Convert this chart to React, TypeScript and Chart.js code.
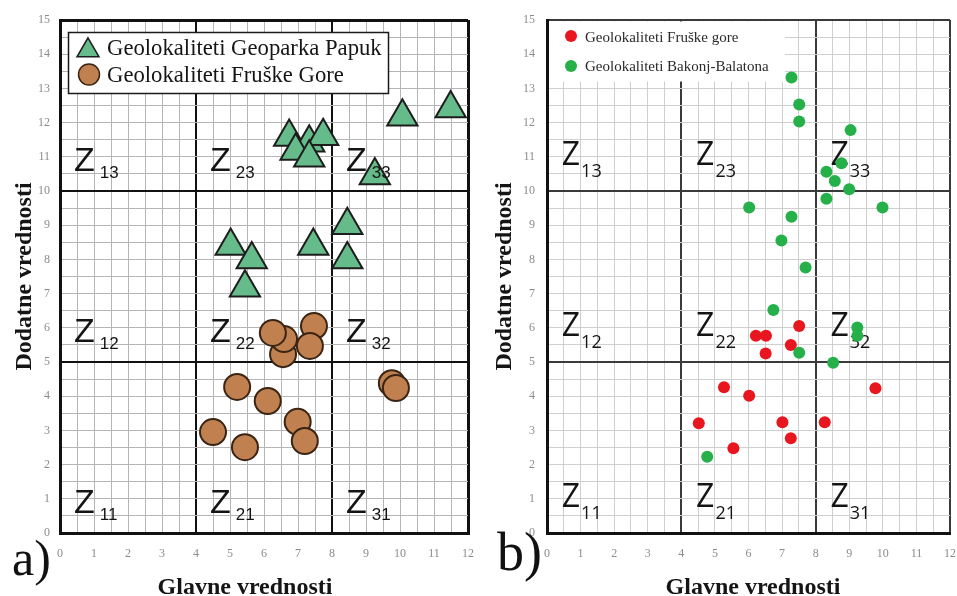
import React, { useEffect, useRef } from 'react';
import { Chart, registerables } from 'chart.js';

Chart.register(...registerables);

// ---------- data ----------
const X_MIN = 0;
const X_MAX = 12;
const Y_MIN = 0;
const Y_MAX = 15;
const xZoneBounds = [0, 4, 8];
const yZoneBounds = [0, 5, 10];
const xMajorStep = 4;
const yMajorStep = 5;

// a) Geolokaliteti Geoparka Papuk (triangles)
const papukX = [6.74, 7.33, 7.74, 6.93, 7.33, 9.26, 10.07, 11.49, 5.02, 5.64, 5.44, 7.45, 8.45, 8.45];
const papukY = [11.58, 11.41, 11.6, 11.17, 10.97, 10.45, 12.17, 12.41, 8.39, 8.0, 7.17, 8.39, 9.0, 8.0];

// a) Geolokaliteti Fruške Gore (circles)
const fruskaAX = [6.56, 6.59, 6.26, 7.47, 7.35, 5.21, 6.11, 4.5, 5.44, 6.99, 7.2, 9.76, 9.88];
const fruskaAY = [5.23, 5.67, 5.85, 6.05, 5.47, 4.27, 3.86, 2.95, 2.51, 3.25, 2.69, 4.38, 4.24];

// b) Geolokaliteti Fruške gore (red)
const fruskaBX = [7.51, 6.22, 6.52, 7.26, 6.51, 5.27, 6.02, 4.52, 7.01, 8.27, 7.26, 5.55, 9.78];
const fruskaBY = [6.05, 5.77, 5.77, 5.5, 5.25, 4.26, 4.01, 3.21, 3.24, 3.24, 2.77, 2.48, 4.23];

// b) Geolokaliteti Bakonj-Balatona (green)
const bakonyX = [7.28, 7.51, 7.51, 9.04, 8.77, 8.32, 8.57, 9.0, 8.32, 9.99, 6.02, 7.28, 6.98, 7.7, 6.74, 9.24, 9.24, 7.51, 8.52, 4.77];
const bakonyY = [13.32, 12.53, 12.03, 11.78, 10.81, 10.56, 10.29, 10.05, 9.77, 9.52, 9.52, 9.25, 8.55, 7.76, 6.52, 6.01, 5.77, 5.27, 4.98, 2.23];

const legendA = ['Geolokaliteti Geoparka Papuk', 'Geolokaliteti Fruške Gore'];
const legendB = ['Geolokaliteti Fruške gore', 'Geolokaliteti Bakonj-Balatona'];
const xTitle = 'Glavne vrednosti';
const yTitle = 'Dodatne vrednosti';
const panelLabels = ['a)', 'b)'];

// ---------- helpers ----------
const toPts = (xs: number[], ys: number[]) => xs.map((x, i) => ({ x, y: ys[i] }));
const tickLabel = (v: any) => (Number.isInteger(Number(v)) ? String(v) : '');
const TITLE_FONT = 'bold 24px "Liberation Serif"';

type Style = {
  width: number;
  yAxisWidth: number;
  padRight: number;
  minor: string;
  major: string;
  majorW: number;
  edgeW: number;
  borderW: number;
  yTickPad: number;
  yTitlePad: number;
  xTitleX: number;
  xTitleY: number;
  zFont: string;
  subFont: string;
  zDx: number;
  zDy: number;
  subGap: number;
  subDy: number;
  zonesOnTop: boolean;
  label: string;
  labelX: number;
  labelY: number;
  labelFont: string;
};

function isMajor(v: number, major: number) {
  return Math.abs(v / major - Math.round(v / major)) < 1e-9;
}

function gridScale(min: number, max: number, major: number, st: Style) {
  return {
    color: (c: any) => {
      const v = c.tick ? c.tick.value : 0;
      return isMajor(v, major) ? st.major : st.minor;
    },
    lineWidth: (c: any) => {
      const v = c.tick ? c.tick.value : 0;
      if (v === min || v === max) return st.edgeW;
      return isMajor(v, major) ? st.majorW : 1;
    },
    drawTicks: false,
  };
}

function zonesPlugin(st: Style) {
  const draw = (chart: any) => {
    const { ctx, scales } = chart;
    const xs = scales.x;
    const ys = scales.y;
    ctx.save();
    ctx.fillStyle = '#141414';
    ctx.textAlign = 'left';
    ctx.textBaseline = 'alphabetic';
    xZoneBounds.forEach((xb, i) => {
      yZoneBounds.forEach((yb, j) => {
        const px = xs.getPixelForValue(xb + st.zDx);
        const py = ys.getPixelForValue(yb) - st.zDy;
        ctx.font = st.zFont;
        ctx.fillText('Z', px, py);
        const w = ctx.measureText('Z').width;
        ctx.font = st.subFont;
        ctx.fillText(`${i + 1}${j + 1}`, px + w + st.subGap, py + st.subDy);
      });
    });
    ctx.restore();
  };
  return st.zonesOnTop
    ? { id: 'zones', afterDatasetsDraw: draw }
    : { id: 'zones', beforeDatasetsDraw: draw };
}

function labelsPlugin(st: Style) {
  return {
    id: 'panelLabels',
    afterDraw(chart: any) {
      const { ctx } = chart;
      ctx.save();
      ctx.fillStyle = '#111';
      ctx.textBaseline = 'alphabetic';
      ctx.font = st.labelFont;
      ctx.textAlign = 'left';
      ctx.fillText(st.label, st.labelX, st.labelY);
      // x axis title
      ctx.fillStyle = '#151515';
      ctx.font = TITLE_FONT;
      ctx.textAlign = 'center';
      ctx.fillText(xTitle, st.xTitleX, st.xTitleY);
      ctx.restore();
    },
  };
}

const legendAPlugin = {
  id: 'legendA',
  beforeDatasetsDraw(chart: any) {
    const { ctx } = chart;
    ctx.save();
    ctx.fillStyle = '#ffffff';
    ctx.fillRect(68, 32, 320, 61);
    ctx.strokeStyle = '#1a1a1a';
    ctx.lineWidth = 1.5;
    ctx.strokeRect(68.5, 32.5, 320, 61);
    // triangle marker
    const r = 12.7;
    const cx = 88;
    const cy = 50.5;
    ctx.beginPath();
    ctx.moveTo(cx, cy - r);
    ctx.lineTo(cx + Math.sin((2 * Math.PI) / 3) * r, cy - Math.cos((2 * Math.PI) / 3) * r);
    ctx.lineTo(cx + Math.sin((4 * Math.PI) / 3) * r, cy - Math.cos((4 * Math.PI) / 3) * r);
    ctx.closePath();
    ctx.fillStyle = '#66bb8a';
    ctx.fill();
    ctx.strokeStyle = '#1d1d1d';
    ctx.lineWidth = 1.5;
    ctx.stroke();
    // circle marker
    ctx.beginPath();
    ctx.arc(89, 74.5, 10.5, 0, Math.PI * 2);
    ctx.fillStyle = '#c0804f';
    ctx.fill();
    ctx.strokeStyle = '#3a2414';
    ctx.stroke();
    ctx.fillStyle = '#151515';
    ctx.font = '22.7px "Liberation Serif"';
    ctx.textAlign = 'left';
    ctx.textBaseline = 'alphabetic';
    ctx.fillText(legendA[0], 107, 55);
    ctx.fillText(legendA[1], 107, 82);
    ctx.restore();
  },
};

const legendBPlugin = {
  id: 'legendB',
  beforeDatasetsDraw(chart: any) {
    const { ctx } = chart;
    ctx.save();
    ctx.fillStyle = '#ffffff';
    ctx.fillRect(69, 21.5, 236, 60);
    ctx.beginPath();
    ctx.arc(91, 36, 6, 0, Math.PI * 2);
    ctx.fillStyle = '#e8161e';
    ctx.fill();
    ctx.beginPath();
    ctx.arc(91, 66, 6, 0, Math.PI * 2);
    ctx.fillStyle = '#25b04a';
    ctx.fill();
    ctx.fillStyle = '#2a2a2a';
    ctx.font = '15px "Liberation Serif"';
    ctx.textAlign = 'left';
    ctx.textBaseline = 'alphabetic';
    ctx.fillText(legendB[0], 105, 42);
    ctx.fillText(legendB[1], 105, 71);
    ctx.restore();
  },
};

function makeConfig(st: Style, datasets: any[], legendPlugin: any): any {
  return {
    type: 'scatter',
    data: { datasets },
    options: {
      animation: false,
      responsive: false,
      devicePixelRatio: 1,
      events: [],
      layout: { autoPadding: false, padding: { left: 0, right: st.padRight, top: 20, bottom: 0 } },
      plugins: { legend: { display: false }, tooltip: { enabled: false } },
      scales: {
        x: {
          type: 'linear',
          min: X_MIN,
          max: X_MAX,
          afterFit: (s: any) => {
            s.height = 63;
            s.paddingLeft = 0;
            s.paddingRight = 0;
          },
          ticks: {
            stepSize: 0.5,
            autoSkip: false,
            maxRotation: 0,
            padding: 14,
            color: '#8c8c8c',
            font: { family: '"Liberation Serif"', size: 12 },
            callback: tickLabel,
          },
          grid: gridScale(X_MIN, X_MAX, xMajorStep, st),
          border: { display: true, color: '#111', width: st.borderW },
          title: { display: false, text: xTitle },
        },
        y: {
          type: 'linear',
          min: Y_MIN,
          max: Y_MAX,
          afterFit: (s: any) => {
            s.width = st.yAxisWidth;
            s.paddingTop = 0;
            s.paddingBottom = 0;
          },
          ticks: {
            stepSize: 0.5,
            autoSkip: false,
            padding: st.yTickPad,
            color: '#8c8c8c',
            font: { family: '"Liberation Serif"', size: 12 },
            callback: tickLabel,
          },
          grid: gridScale(Y_MIN, Y_MAX, yMajorStep, st),
          border: { display: true, color: '#111', width: st.borderW },
          title: {
            display: true,
            text: yTitle,
            color: '#151515',
            font: { family: '"Liberation Serif"', size: 24, weight: 'bold' },
            padding: { top: st.yTitlePad, bottom: 0 },
          },
        },
      },
    },
    plugins: [legendPlugin, zonesPlugin(st), labelsPlugin(st)],
  };
}

const styleA: Style = {
  width: 480,
  yAxisWidth: 60,
  padRight: 12,
  minor: '#b5b5b5',
  major: '#111111',
  majorW: 2,
  edgeW: 3,
  borderW: 3,
  yTickPad: 10,
  yTitlePad: 10,
  xTitleX: 245,
  xTitleY: 594,
  zFont: '34px "Liberation Sans"',
  subFont: '17px "Liberation Sans"',
  zDx: 0.41,
  zDy: 20,
  subGap: 5,
  subDy: 7,
  zonesOnTop: true,
  label: panelLabels[0],
  labelX: 12,
  labelY: 575,
  labelFont: '50px "Liberation Serif"',
};

const styleB: Style = {
  width: 477,
  yAxisWidth: 67,
  padRight: 7,
  minor: '#cfcfcf',
  major: '#3a3a3a',
  majorW: 2,
  edgeW: 2,
  borderW: 3,
  yTickPad: 12,
  yTitlePad: 10,
  xTitleX: 273,
  xTitleY: 594,
  zFont: '32px "Open Sans"',
  subFont: '18px "Open Sans"',
  zDx: 0.44,
  zDy: 26,
  subGap: 1,
  subDy: 12,
  zonesOnTop: false,
  label: panelLabels[1],
  labelX: 17,
  labelY: 570,
  labelFont: '54px "Liberation Serif"',
};

const datasetsA = [
  {
    label: legendA[0],
    data: toPts(papukX, papukY),
    pointStyle: 'triangle',
    pointRadius: 17.5,
    backgroundColor: '#66bb8a',
    borderColor: '#1d1d1d',
    borderWidth: 2,
    showLine: false,
  },
  {
    label: legendA[1],
    data: toPts(fruskaAX, fruskaAY),
    pointStyle: 'circle',
    pointRadius: 13,
    backgroundColor: '#c0804f',
    borderColor: '#3a2414',
    borderWidth: 2,
    showLine: false,
  },
];

const datasetsB = [
  {
    label: legendB[0],
    data: toPts(fruskaBX, fruskaBY),
    pointStyle: 'circle',
    pointRadius: 6,
    backgroundColor: '#e8161e',
    borderWidth: 0,
    order: 1,
    showLine: false,
  },
  {
    label: legendB[1],
    data: toPts(bakonyX, bakonyY),
    pointStyle: 'circle',
    pointRadius: 6,
    backgroundColor: '#25b04a',
    borderWidth: 0,
    order: 0,
    showLine: false,
  },
];

function Panel({ left, st, datasets, legendPlugin }: any) {
  const ref = useRef<HTMLCanvasElement>(null);
  useEffect(() => {
    const chart = new Chart(ref.current as HTMLCanvasElement, makeConfig(st, datasets, legendPlugin));
    return () => chart.destroy();
  }, []);
  return (
    <canvas
      ref={ref}
      width={st.width}
      height={596}
      style={{ position: 'absolute', left, top: 0, width: st.width, height: 596 }}
    />
  );
}

export default function App() {
  return (
    <div style={{ position: 'absolute', left: 0, top: 0, width: 957, height: 596, background: '#fff', overflow: 'hidden' }}>
      <Panel left={0} st={styleA} datasets={datasetsA} legendPlugin={legendAPlugin} />
      <Panel left={480} st={styleB} datasets={datasetsB} legendPlugin={legendBPlugin} />
    </div>
  );
}
